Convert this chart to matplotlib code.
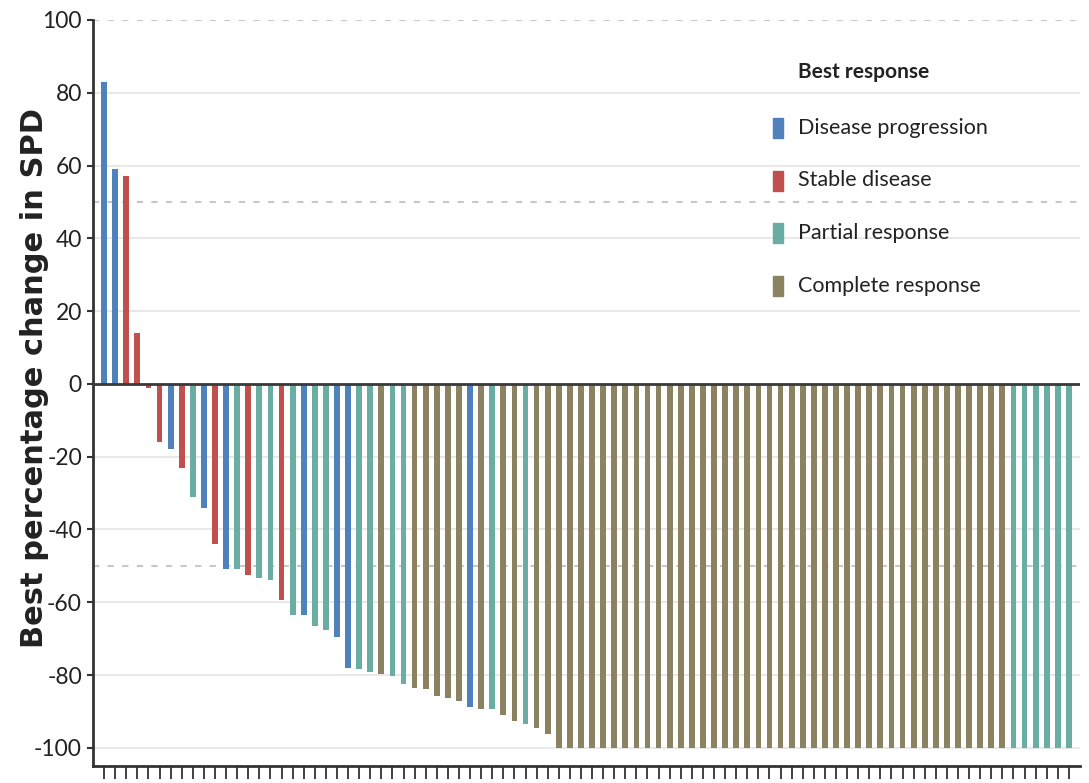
import matplotlib
matplotlib.use("Agg")
import matplotlib.pyplot as plt
from matplotlib.patches import Rectangle

plt.rcParams["axes.unicode_minus"] = False

# Best response categories and their colours
categories = ["Disease progression", "Stable disease", "Partial response", "Complete response"]
codes = ["PD", "SD", "PR", "CR"]
colors = {"PD": "#4f81bd", "SD": "#c0504d", "PR": "#6aaea3", "CR": "#8b8262"}

# Best percentage change in SPD per patient (sorted)
change = [83, 59, 57, 14, -1, -16, -18, -23, -31, -34,
          -44, -51, -51, -52.5, -53.3, -54, -59.4, -63.6, -63.6, -66.5,
          -67.6, -69.6, -78.2, -78.4, -79.1, -79.8, -80.3, -82.6, -83.7, -83.9,
          -85.8, -86.2, -87.1, -88.8, -89.2, -89.4, -91, -92.6, -93.5, -94.5,
          -96.3, -100, -100, -100, -100, -100, -100, -100, -100, -100,
          -100, -100, -100, -100, -100, -100, -100, -100, -100, -100,
          -100, -100, -100, -100, -100, -100, -100, -100, -100, -100,
          -100, -100, -100, -100, -100, -100, -100, -100, -100, -100,
          -100, -100, -100, -100, -100, -100, -100, -100]

response = ["PD", "PD", "SD", "SD", "SD", "SD", "PD", "SD", "PR", "PD",
            "SD", "PD", "PR", "SD", "PR", "PR", "SD", "PR", "PD", "PR",
            "PR", "PD", "PD", "PR", "PR", "CR", "PR", "PR", "CR", "CR",
            "CR", "CR", "CR", "PD", "CR", "PR", "CR", "CR", "PR", "CR",
            "CR", "CR", "CR", "CR", "CR", "CR", "CR", "CR", "CR", "CR",
            "CR", "CR", "CR", "CR", "CR", "CR", "CR", "CR", "CR", "CR",
            "CR", "CR", "CR", "CR", "CR", "CR", "CR", "CR", "CR", "CR",
            "CR", "CR", "CR", "CR", "CR", "CR", "CR", "CR", "CR", "CR",
            "CR", "CR", "PR", "PR", "PR", "PR", "PR", "PR"]

yticks = [100, 80, 60, 40, 20, 0, -20, -40, -60, -80, -100]
solid_grid = [80, 60, 40, 20, -20, -40, -60, -80, -100]
dashed_grid = [100, 50, -50]

narrow = ["Lato", "DejaVu Sans"]

fig = plt.figure(figsize=(10.89, 7.83), dpi=100)
ax = fig.add_axes([93 / 1089, 1 - 766 / 783, (1080 - 93) / 1089, (766 - 20) / 783])

x = list(range(len(change)))
ax.bar(x, change, width=0.52, color=[colors[r] for r in response], zorder=3)

for g in solid_grid:
    ax.axhline(g, color="#e8e8e8", lw=1.5, zorder=1)
for g in dashed_grid:
    ax.axhline(g, color="#c8c8c8", lw=1.5, ls=(0, (3, 4)), zorder=1)
ax.axhline(0, color="#3a3a3a", lw=2, zorder=4)

ax.set_xlim(-1, len(change))
ax.set_ylim(-105, 100)

for s in ["top", "right"]:
    ax.spines[s].set_visible(False)
for s in ["left", "bottom"]:
    ax.spines[s].set_color("#333333")
    ax.spines[s].set_linewidth(2)

ax.set_xticks(x)
ax.set_xticklabels([])
ax.tick_params(axis="x", direction="out", length=9, width=1.3, color="#333333")

ax.set_yticks(yticks)
ax.set_yticklabels([str(t) for t in yticks], family=narrow, fontsize=16.5, color="#222222")
ax.tick_params(axis="y", direction="out", length=4, width=1.5, color="#333333", pad=4)

ax.set_ylabel("Best percentage change in SPD", fontsize=22, fontweight="bold",
              family="DejaVu Sans", color="#222222")
ax.yaxis.set_label_coords(-0.045, 0.52)

# Legend drawn by hand in figure pixel coordinates
W, H = 1089, 783
fig.text(798 / W, 1 - 72 / H, "Best response", family=narrow, fontweight="bold",
         fontsize=15, va="center", ha="left", color="#222222")
for i, (name, code) in enumerate(zip(categories, codes)):
    yc = 128 + i * 52.5
    fig.patches.append(Rectangle((773 / W, 1 - (yc + 10) / H), 10 / W, 20 / H,
                                 transform=fig.transFigure, color=colors[code]))
    fig.text(798 / W, 1 - yc / H, name, family=narrow, fontsize=15.5,
             va="center", ha="left", color="#222222")

fig.savefig("out.png", dpi=100, facecolor="white")
